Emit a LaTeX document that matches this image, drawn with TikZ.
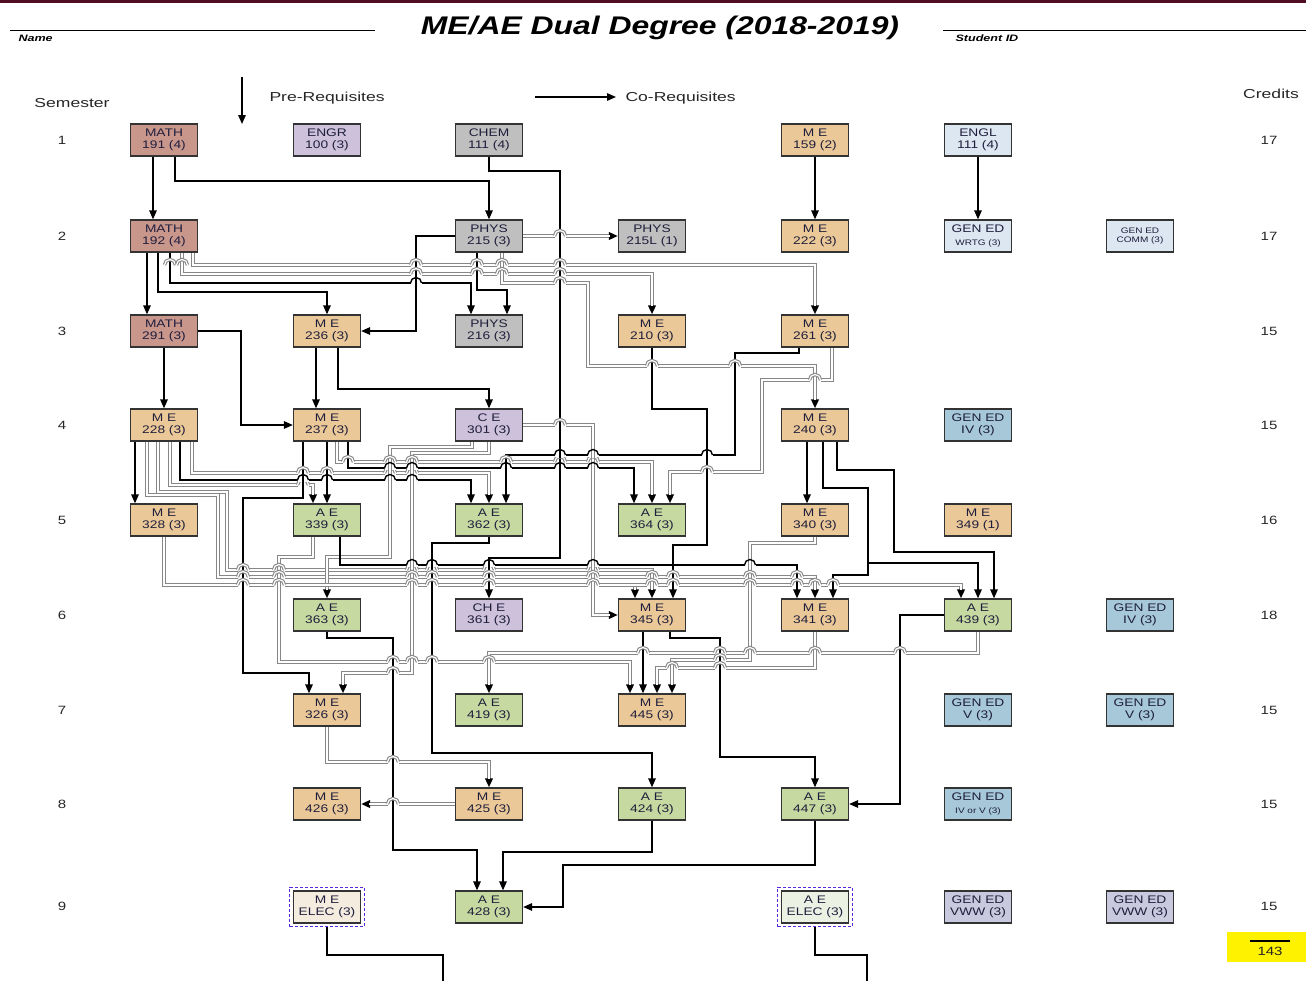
\documentclass[tikz,border=0pt]{standalone}
\usepackage{fontspec}
\setmainfont{Liberation Sans}[FakeStretch=1.25]
\newfontfamily\labfont{Liberation Sans}[FakeStretch=1.35]
\usetikzlibrary{arrows.meta,calc,fit}
\definecolor{mathc}{RGB}{201,150,140}
\definecolor{engrc}{RGB}{205,193,219}
\definecolor{grayc}{RGB}{191,191,191}
\definecolor{mec}{RGB}{235,200,152}
\definecolor{aec}{RGB}{198,217,160}
\definecolor{lightb}{RGB}{221,231,242}
\definecolor{genb}{RGB}{166,200,216}
\definecolor{vwwc}{RGB}{200,200,222}
\definecolor{meelecc}{RGB}{245,236,224}
\definecolor{aeelecc}{RGB}{235,241,227}
\definecolor{barc}{RGB}{80,12,32}
\definecolor{txt}{RGB}{30,30,60}
\definecolor{elecd}{RGB}{90,40,220}
\definecolor{lineg}{RGB}{135,135,135}
\newcommand\hopx[4]{%
  \fill[white] (#1-5.5,#2-2.2) rectangle (#1+5.5,#2+2.2);
  \draw[#4] (#1,#2-3.2) -- (#1,#2+3.2);
  \draw[#3] (#1-5.5,#2) arc[start angle=180,end angle=360,radius=5.5];
}
\begin{document}
\begin{tikzpicture}[x=1pt,y=-1pt,
  box/.style={draw=black!80, line width=1.3pt, minimum width=67pt, minimum height=32pt, inner sep=0pt, align=center, text=txt, font=\fontsize{11}{12.5}\selectfont},
  pre/.style={draw=black, line width=1.4pt, -{Triangle[length=9pt,width=7.5pt]}},
  co/.style={draw=lineg, line width=3.4pt, -{Triangle[length=9pt,width=7.5pt,color=black]}, postaction={draw=white, line width=1.2pt, -, shorten >=8pt}},
  hb/.style={draw=black, line width=1.4pt},
  vb/.style={draw=black, line width=1.4pt},
  hg/.style={draw=lineg, line width=3.4pt, postaction={draw=white, line width=1.2pt}},
  vg/.style={draw=lineg, line width=3.4pt, postaction={draw=white, line width=1.2pt}},
  lab/.style={font=\labfont\fontsize{13}{15}\selectfont, text=black!85},
  num/.style={font=\fontsize{12}{14}\selectfont, text=black!85},
  elec/.style={draw=elecd, densely dashed, line width=0.9pt, inner sep=3pt},
  thick line/.style={draw=black, line width=2.6pt}
]
\useasboundingbox (0,0) rectangle (1306,980);
\fill[barc] (0,0) rectangle (1306,3);

% header
\node[font=\bfseries\itshape\fontsize{25.5}{30}\selectfont] (title) at (660,28) {ME/AE Dual Degree (2018-2019)};
\coordinate (nl1) at (10,30); \coordinate (nl2) at (375,30);
\coordinate (sl1) at (943,30); \coordinate (sl2) at (1306,30);
\draw[line width=0.8pt] (nl1) -- (nl2);
\draw[line width=0.8pt] (sl1) -- (sl2);
\node[anchor=west, font=\labfont\bfseries\itshape\fontsize{9.3}{11}\selectfont] (name) at (15,38) {Name};
\node[anchor=west, font=\labfont\bfseries\itshape\fontsize{9.3}{11}\selectfont] (sid) at (952,38) {Student ID};

% legend
\coordinate (lga) at (242,77); \coordinate (lgb) at (242,124);
\draw[pre] (lga) -- (lgb);
\node[lab, anchor=west] (prel) at (266,98) {Pre-Requisites};
\coordinate (lgc) at (535,97); \coordinate (lgd) at (616,97);
\draw[pre] (lgc) -- (lgd);
\node[lab, anchor=west] (corl) at (622,98) {Co-Requisites};
\node[lab] (semh) at (72,103) {Semester};
\node[lab] (crh) at (1271,94) {Credits};

% semester numbers and credits
\foreach \s/\y/\c in {1/140/17,2/236/17,3/331/15,4/425/15,5/520/16,6/615/18,7/710/15,8/804/15,9/906/15}{
  \node[num] (sem\s) at (62,\y) {\s};
  \node[num] (cr\s) at (1269,\y) {\c};
}
\fill[yellow] (1227,932) rectangle (1306,962);
\draw[line width=1.6pt] (1250,941) -- (1290,941);
\node[num] (total) at (1270,951) {143};

% row 1
\node[box,fill=mathc] (m191) at (164,140) {MATH\\191 (4)};
\node[box,fill=engrc] (e100) at (327,140) {ENGR\\100 (3)};
\node[box,fill=grayc] (c111) at (489,140) {CHEM\\111 (4)};
\node[box,fill=mec] (me159) at (815,140) {M E\\159 (2)};
\node[box,fill=lightb] (en111) at (978,140) {ENGL\\111 (4)};
% row 2
\node[box,fill=mathc] (m192) at (164,236) {MATH\\192 (4)};
\node[box,fill=grayc] (p215) at (489,236) {PHYS\\215 (3)};
\node[box,fill=grayc] (p215L) at (652,236) {PHYS\\215L (1)};
\node[box,fill=mec] (me222) at (815,236) {M E\\222 (3)};
\node[box,fill=lightb] (gwrtg) at (978,236) {GEN ED\\{\fontsize{8}{9}\selectfont WRTG (3)}};
\node[box,fill=lightb,font=\fontsize{8}{9.5}\selectfont] (gcomm) at (1140,236) {GEN ED\\COMM (3)};
% row 3
\node[box,fill=mathc] (m291) at (164,331) {MATH\\291 (3)};
\node[box,fill=mec] (me236) at (327,331) {M E\\236 (3)};
\node[box,fill=grayc] (p216) at (489,331) {PHYS\\216 (3)};
\node[box,fill=mec] (me210) at (652,331) {M E\\210 (3)};
\node[box,fill=mec] (me261) at (815,331) {M E\\261 (3)};
% row 4
\node[box,fill=mec] (me228) at (164,425) {M E\\228 (3)};
\node[box,fill=mec] (me237) at (327,425) {M E\\237 (3)};
\node[box,fill=engrc] (ce301) at (489,425) {C E\\301 (3)};
\node[box,fill=mec] (me240) at (815,425) {M E\\240 (3)};
\node[box,fill=genb] (giv4) at (978,425) {GEN ED\\IV (3)};
% row 5
\node[box,fill=mec] (me328) at (164,520) {M E\\328 (3)};
\node[box,fill=aec] (ae339) at (327,520) {A E\\339 (3)};
\node[box,fill=aec] (ae362) at (489,520) {A E\\362 (3)};
\node[box,fill=aec] (ae364) at (652,520) {A E\\364 (3)};
\node[box,fill=mec] (me340) at (815,520) {M E\\340 (3)};
\node[box,fill=mec] (me349) at (978,520) {M E\\349 (1)};
% row 6
\node[box,fill=aec] (ae363) at (327,615) {A E\\363 (3)};
\node[box,fill=engrc] (che361) at (489,615) {CH E\\361 (3)};
\node[box,fill=mec] (me345) at (652,615) {M E\\345 (3)};
\node[box,fill=mec] (me341) at (815,615) {M E\\341 (3)};
\node[box,fill=aec] (ae439) at (978,615) {A E\\439 (3)};
\node[box,fill=genb] (giv6) at (1140,615) {GEN ED\\IV (3)};
% row 7
\node[box,fill=mec] (me326) at (327,710) {M E\\326 (3)};
\node[box,fill=aec] (ae419) at (489,710) {A E\\419 (3)};
\node[box,fill=mec] (me445) at (652,710) {M E\\445 (3)};
\node[box,fill=genb] (gv7a) at (978,710) {GEN ED\\V (3)};
\node[box,fill=genb] (gv7b) at (1140,710) {GEN ED\\V (3)};
% row 8
\node[box,fill=mec] (me426) at (327,804) {M E\\426 (3)};
\node[box,fill=mec] (me425) at (489,804) {M E\\425 (3)};
\node[box,fill=aec] (ae424) at (652,804) {A E\\424 (3)};
\node[box,fill=aec] (ae447) at (815,804) {A E\\447 (3)};
\node[box,fill=genb] (givv) at (978,804) {GEN ED\\{\fontsize{8}{9}\selectfont IV or V (3)}};
% row 9
\node[box,fill=meelecc] (meelec) at (327,907) {M E\\ELEC (3)};
\node[elec, fit=(meelec)] (meelecf) {};
\node[box,fill=aec] (ae428) at (489,907) {A E\\428 (3)};
\node[box,fill=aeelecc] (aeelec) at (815,907) {A E\\ELEC (3)};
\node[elec, fit=(aeelec)] (aeelecf) {};
\node[box,fill=vwwc] (gvww1) at (978,907) {GEN ED\\VWW (3)};
\node[box,fill=vwwc] (gvww2) at (1140,907) {GEN ED\\VWW (3)};

\coordinate (eb1) at (443,982);
\coordinate (eb2) at (867,982);
\draw[thick line] (meelecf.south) |- (443,955) -- (eb1);
\draw[thick line] (aeelecf.south) |- (867,955) -- (eb2);

% ---------- connectors ----------
% rows 1-2
\draw[pre] ([xshift=-11pt]m191.south) -- ([xshift=-11pt]m192.north);
\draw[pre] ([xshift=11pt]m191.south) |- (489,181) -- (p215.north);
\draw[pre] (me159.south) -- (me222.north);
\draw[pre] (en111.south) -- (gwrtg.north);
\draw[co] (p215.east) -- (p215L.west);
\draw[pre] (c111.south) |- (560,171) |- (489,558) -- (che361.north);
% rows 2-3
\draw[pre] ([xshift=-17pt]m192.south) -- ([xshift=-17pt]m291.north);
\draw[pre] ([xshift=-6pt]m192.south) |- (327,292) -- (me236.north);
\draw[pre] ([xshift=6pt]m192.south) |- (471,283) -- ([xshift=-18pt]p216.north);
\draw[co] ([xshift=18pt]m192.south) |- (652,274) -- (me210.north);
\draw[co] ([xshift=29pt]m192.south) |- (815,265) -- (me261.north);
\draw[pre] (p215.west) -- (416,236) |- (me236.east);
\draw[pre] ([xshift=-12pt]p215.south) |- (507,290) -- ([xshift=18pt]p216.north);
\draw[co] ([xshift=13pt]p215.south) |- (588,283) |- (815,366) -- (me240.north);
% rows 3-4
\draw[pre] (m291.south) -- (me228.north);
\draw[pre] (m291.east) -- (241,331) |- (me237.west);
\draw[pre] ([xshift=-11pt]me236.south) -- ([xshift=-11pt]me237.north);
\draw[pre] ([xshift=11pt]me236.south) |- (489,389) -- (ce301.north);
\draw[pre] (me210.south) |- (707,409) |- (673,545) -- ([xshift=21pt]me345.north);
\draw[pre] ([xshift=-16pt]me261.south) |- (735,353) |- (506,455) -- ([xshift=17pt]ae362.north);
\draw[co] ([xshift=17pt]me261.south) |- (762,380) |- (670,472) -- ([xshift=18pt]ae364.north);
% rows 4-5
\draw[pre] ([xshift=-29pt]me228.south) -- ([xshift=-29pt]me328.north);
\draw[co] ([xshift=-17pt]me228.south) |- (218,495) |- (815,577) -- (me341.north);
\draw[co] ([xshift=-6pt]me228.south) |- (227,492) |- (652,570) -- (me345.north);
\draw[co] ([xshift=6pt]me228.south) |- (313,485) -- ([xshift=-14pt]ae339.north);
\draw[pre] ([xshift=16pt]me228.south) |- (471,480) -- ([xshift=-18pt]ae362.north);
\draw[co] ([xshift=28pt]me228.south) |- (489,473) -- (ae362.north);
\draw[pre] ([xshift=-24pt]me237.south) |- (243,498) |- (309,673) -- ([xshift=-18pt]me326.north);
\draw[pre] (me237.south) -- (ae339.north);
\draw[co] ([xshift=10pt]me237.south) |- (652,462) -- (ae364.north);
\draw[pre] ([xshift=21pt]me237.south) |- (634,468) -- ([xshift=-18pt]ae364.north);
\draw[co] ([xshift=-17pt]ce301.south) |- (390,447) |- (327,557) -- (ae363.north);
\draw[co] (ce301.south) |- (412,453) |- (343,673) -- ([xshift=16pt]me326.north);
\draw[co] (ce301.east) -- (593,425) |- (me345.west);
\draw[pre] ([xshift=-8pt]me240.south) -- ([xshift=-8pt]me340.north);
\draw[pre] ([xshift=8pt]me240.south) |- (868,488) |- (833,575) -- ([xshift=18pt]me341.north);
\draw[pre] ([xshift=8pt]me240.south) |- (868,488) |- (978,563) -- (ae439.north);
\draw[pre] ([xshift=22pt]me240.south) |- (894,470) |- (994,552) -- ([xshift=16pt]ae439.north);
% rows 5-6-7
\draw[co] ([xshift=-14pt]ae339.south) |- (279,557) |- (630,662) -- ([xshift=-22pt]me445.north);
\draw[pre] ([xshift=13pt]ae339.south) |- (797,565) -- ([xshift=-18pt]me341.north);
\draw[pre] (ae362.south) |- (432,543) |- (652,753) -- (ae424.north);
\draw[co] (me328.south) |- (635,585) -- ([xshift=-17pt]me345.north);
\draw[co] (me328.south) |- (961,585) -- ([xshift=-17pt]ae439.north);
\draw[co] (me340.south) |- (750,543) |- (672,660) -- ([xshift=20pt]me445.north);
\draw[pre] ([xshift=-9pt]me345.south) -- ([xshift=-9pt]me445.north);
\draw[pre] ([xshift=18pt]me345.south) |- (720,638) |- (815,757) -- (ae447.north);
\draw[co] (me341.south) |- (657,668) -- ([xshift=5pt]me445.north);
\draw[co] (ae439.south) |- (489,653) -- (ae419.north);
\draw[pre] (ae439.west) -- (900,615) |- (ae447.east);
% rows 7-9
\draw[pre] (ae363.south) |- (393,638) |- (477,850) -- ([xshift=-12pt]ae428.north);
\draw[co] (me326.south) |- (489,762) -- (me425.north);
\draw[co] (me425.west) -- (me426.east);
\draw[pre] (ae424.south) |- (503,852) -- ([xshift=14pt]ae428.north);
\draw[pre] (ae447.south) |- (563,865) |- (ae428.east);

% ---------- line hops ----------
\foreach \x/\y in {560/236, 170/265, 416/265, 477/265, 560/265, 416/274, 477/274, 560/274, 560/283,
  652/366, 735/366, 560/425, 348/462, 506/462, 560/462, 707/472, 303/473, 327/473, 303/485,
  243/570, 432/570, 489/570, 243/577, 432/577, 489/577, 673/577, 797/577, 243/585, 432/585, 489/585,
  673/585, 797/585, 833/585,
  643/653, 720/653, 900/653, 720/660, 393/662, 432/662, 720/668, 393/673, 393/762, 393/804}
  {\hopx{\x}{\y}{hg}{vb}}
\foreach \x/\y in {182/265, 502/265, 502/274, 815/380, 390/462, 412/462, 593/462, 390/473, 412/473,
  279/570, 412/570, 593/570, 279/577, 412/577, 593/577, 652/577, 750/577, 279/585, 412/585, 593/585,
  652/585, 750/585, 815/585, 750/653, 815/653, 412/662, 489/662, 672/668}
  {\hopx{\x}{\y}{hg}{vg}}
\foreach \x/\y in {416/283, 560/455, 707/455, 506/468, 560/468, 303/480, 327/480, 432/565, 489/565}
  {\hopx{\x}{\y}{hb}{vb}}
\foreach \x/\y in {593/455, 390/468, 412/468, 593/468, 390/480, 412/480, 412/565, 593/565, 750/565}
  {\hopx{\x}{\y}{hb}{vg}}
\end{tikzpicture}
\end{document}
